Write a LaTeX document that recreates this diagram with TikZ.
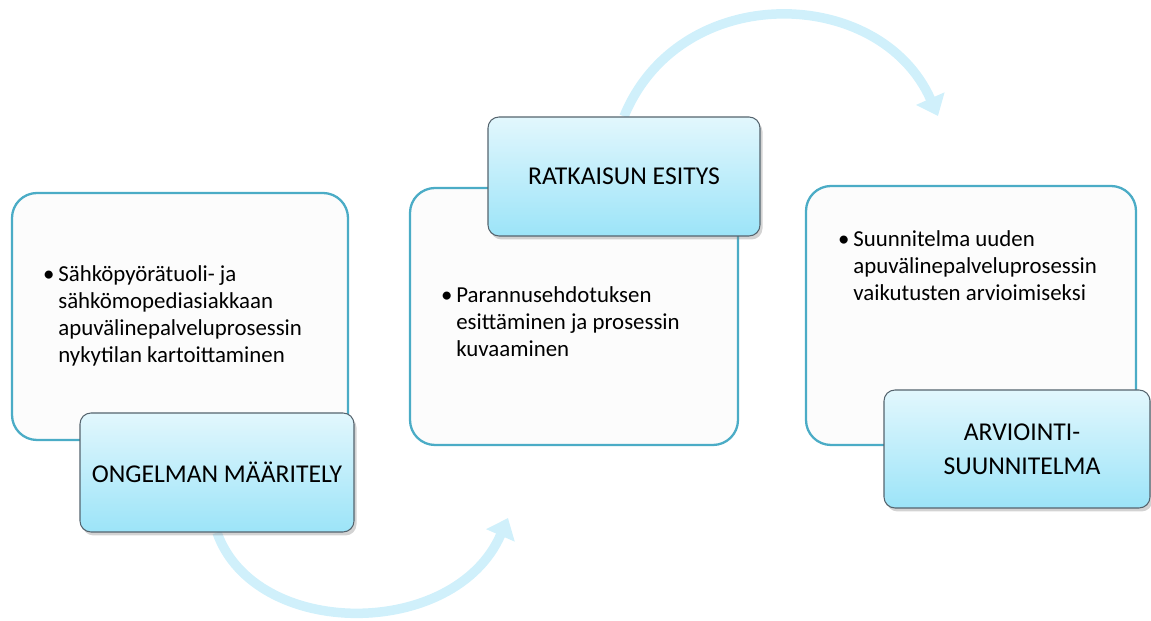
\documentclass[tikz,border=0pt]{standalone}
\usepackage{fontspec}
\setmainfont{Carlito}
\usepackage{tikz}
\definecolor{accent}{RGB}{75,172,198}
\definecolor{paper}{RGB}{252,252,252}
\definecolor{labeltop}{RGB}{226,247,253}
\definecolor{labelbot}{RGB}{156,228,248}
\definecolor{labeledge}{RGB}{85,100,110}
\definecolor{arrowblue}{RGB}{208,240,251}
\usetikzlibrary{arrows.meta,shadows,backgrounds,positioning}

\begin{document}
\begin{tikzpicture}[
    textbox/.style={draw=accent, line width=1.3pt, fill=paper, rounded corners=0.5cm, inner sep=0pt},
    bodytext/.style={align=left, inner sep=0pt, font=\fontsize{13}{15.3}\selectfont},
    labelbox/.style={draw=labeledge, line width=0.6pt, top color=labeltop, bottom color=labelbot,
        rounded corners=0.22cm, align=center, inner sep=0pt,
        drop shadow={opacity=0.35, shadow xshift=0.05cm, shadow yshift=-0.07cm},
        font=\fontsize{14.6}{19.4}\selectfont},
    flow/.style={draw=arrowblue, line width=0.19cm, -{Triangle[width=0.6cm,length=0.38cm]}}]
        \useasboundingbox (0,0) rectangle (23.02,12.42);
        % white boxes
        \node[textbox, minimum width=6.72cm, minimum height=4.94cm] (prob) at (3.60,6.09) {};
        \node[textbox, minimum width=6.56cm, minimum height=5.14cm] (sol) at (11.48,6.09) {};
        \node[textbox, minimum width=6.60cm, minimum height=5.18cm] (eval) at (19.42,6.11) {};
        \node[bodytext, anchor=west] (probText) at (1.16,6.10) {\llap{\textbullet\,}Sähköpyörätuoli- ja\\ sähkömopediasiakkaan\\ apuvälinepalveluprosessin\\ nykytilan kartoittaminen};
        \node[bodytext, anchor=west] (solText) at (9.12,5.98) {\llap{\textbullet\,}Parannusehdotuksen\\ esittäminen ja prosessin\\ kuvaaminen};
        \node[bodytext, anchor=west] (evalText) at (17.06,7.10) {\llap{\textbullet\,}Suunnitelma uuden\\ apuvälinepalveluprosessin\\ vaikutusten arvioimiseksi};
        % labels
        \node[labelbox, minimum width=5.48cm, minimum height=2.38cm] (probLabel) at (4.34,2.97) {ONGELMAN MÄÄRITELY};
        \node[labelbox, minimum width=5.44cm, minimum height=2.38cm] (solLabel) at (12.48,8.89) {RATKAISUN ESITYS};
        \node[labelbox, minimum width=5.32cm, minimum height=2.36cm] (evalLabel) at (20.34,3.44) {\hspace{0.2cm}ARVIOINTI-\\\hspace{0.2cm}SUUNNITELMA};
        % arrows
        \coordinate (toSol) at (10.16,2.06);
        \coordinate (toEval) at (18.76,10.10);
        \begin{scope}[on background layer]
            \draw[flow] (probLabel.south) .. controls (5.10,-0.38) and (9.10,-0.38) .. (toSol);
            \draw[flow] (solLabel.north) .. controls (13.6,12.82) and (17.6,12.72) .. (toEval);
        \end{scope}
    \end{tikzpicture}
\end{document}
